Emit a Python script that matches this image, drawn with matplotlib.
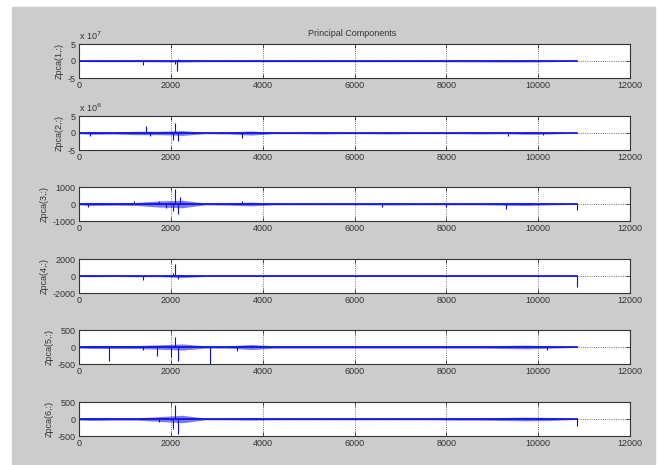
import numpy as np
import matplotlib
matplotlib.use("Agg")
import matplotlib.pyplot as plt
from matplotlib.patches import Rectangle

# ---- data ------------------------------------------------------------------
N_SAMPLES = 10850
BIN_CENTRES = [0, 250, 750, 1250, 1750, 2250, 2750, 3250, 3750, 4250, 4750,
               5250, 5750, 6250, 6750, 7250, 7750, 8250, 8750, 9250, 9750,
               10250, 10675, 10850]

# noise band half-widths around each centre, one list per component
band1 = [0.1, 0.2, 0.2, 0.2, 0.25, 0.3, 0.2, 0.2, 0.2, 0.2, 0.2, 0.2,
         0.2, 0.2, 0.2, 0.2, 0.2, 0.25, 0.25, 0.3, 0.3, 0.2, 0.1, 0.05]     # x1e7
band2 = [0.2, 0.4, 0.3, 0.5, 0.5, 0.7, 0.2, 0.3, 0.6, 0.2, 0.2, 0.3,
         0.2, 0.2, 0.3, 0.2, 0.2, 0.2, 0.3, 0.2, 0.4, 0.3, 0.1, 0.05]       # x1e6
band3 = [50, 90, 70, 90, 180, 220, 50, 70, 110, 50, 50, 50,
         50, 50, 60, 50, 50, 50, 50, 70, 90, 50, 30, 20]
band4 = [50, 90, 50, 90, 70, 180, 50, 50, 50, 50, 50, 50,
         50, 50, 50, 50, 50, 50, 50, 50, 50, 50, 30, 20]
band5 = [30, 45, 45, 45, 65, 90, 35, 35, 75, 35, 35, 35,
         35, 35, 35, 35, 35, 35, 35, 45, 55, 35, 20, 10]
band6 = [30, 45, 35, 35, 70, 110, 25, 25, 35, 25, 25, 25,
         25, 25, 25, 25, 25, 35, 35, 45, 55, 45, 20, 10]

# isolated spikes: (sample index, value)
spikes1 = [(1400, -1.3), (2080, -1.0), (2130, -3.0), (2160, 0.5)]
spikes2 = [(230, -1.0), (1450, 2.0), (1550, -0.8), (2050, -2.0), (2100, 3.0),
           (2150, -2.5), (3550, -1.5), (9350, -0.8), (10100, -0.6)]
spikes3 = [(200, -150), (1200, 150), (1750, 200), (1900, -250), (2050, -400),
           (2100, 900), (2150, -600), (2200, 400), (3550, 150), (6600, -200),
           (8000, -150), (9300, -300), (10850, -350)]
spikes4 = [(1400, -500), (2050, 300), (2100, 1400), (2150, -300),
           (10850, -1300)]
spikes5 = [(650, -400), (1400, -100), (1700, -250), (2000, -300), (2100, 300),
           (2150, -400), (2850, -550), (3450, -120), (10200, -80)]
spikes6 = [(1750, -80), (2050, -300), (2100, 400), (2150, -450), (10850, -200)]

YTICKS = [(-5, 0, 5), (-5, 0, 5), (-1000, 0, 1000), (-2000, 0, 2000),
          (-500, 0, 500), (-500, 0, 500)]
EXPONENTS = [7, 6, None, None, None, None]
XTICKS = [0, 2000, 4000, 6000, 8000, 10000, 12000]
TITLE = "Principal Components"

# ---- figure ----------------------------------------------------------------
W, H = 659, 465
BLUE = "#0c0ce6"
FONT = "Liberation Sans"
FS = 6.5

fig = plt.figure(figsize=(W / 100, H / 100), dpi=100, facecolor="white")
fig.patches.append(Rectangle((12 / W, 0), (655 - 12) / W, (H - 7) / H,
                             transform=fig.transFigure, color="#cccccc",
                             zorder=-10))

tops_px = [44, 116, 187, 259, 330, 402]
ax_h = 34
left, right = 79, 630

bands = [band1, band2, band3, band4, band5, band6]
spikes = [spikes1, spikes2, spikes3, spikes4, spikes5, spikes6]

for i in range(6):
    bottom = 1 - (tops_px[i] + ax_h) / H
    ax = fig.add_axes([left / W, bottom, (right - left) / W, ax_h / H])
    ax.set_facecolor("white")
    lo, mid, hi = YTICKS[i]
    ax.set_xlim(0, 12000)
    ax.set_ylim(lo, hi)

    b = np.array(bands[i], float)
    ax.fill_between(BIN_CENTRES, -b, b, color=BLUE, alpha=0.55, lw=0)
    ax.plot([0, N_SAMPLES], [0, 0], color=BLUE, lw=1.2)
    sx = [s[0] for s in spikes[i]]
    sy = [s[1] for s in spikes[i]]
    ax.vlines(sx, 0, sy, color=BLUE, lw=0.8)

    ax.set_xticks(XTICKS)
    ax.set_yticks([lo, mid, hi])
    ax.set_yticklabels([str(lo), str(mid), str(hi)])
    ax.grid(True, linestyle=":", color="#444444", lw=0.6)
    ax.set_axisbelow(True)
    ax.tick_params(direction="in", length=3, width=0.6, top=True, right=True,
                   labelsize=FS, pad=2.5, colors="#333333")
    for lab in ax.get_xticklabels() + ax.get_yticklabels():
        lab.set_fontfamily(FONT)
    for sp in ax.spines.values():
        sp.set_linewidth(0.8)
        sp.set_color("#333333")
    ax.set_ylabel(f"Zpca({i + 1},:)", fontsize=FS, family=FONT,
                  color="#333333", labelpad=3)
    if EXPONENTS[i] is not None:
        ax.text(0.0, 1.06, rf"x 10$^{{{EXPONENTS[i]}}}$", transform=ax.transAxes,
                fontsize=FS, family=FONT, color="#333333", va="bottom")

fig.text(352 / W, 1 - 33 / H, TITLE, ha="center", va="center", fontsize=FS,
         family=FONT, color="#333333")

fig.savefig("out.png", dpi=100, facecolor=fig.get_facecolor())
